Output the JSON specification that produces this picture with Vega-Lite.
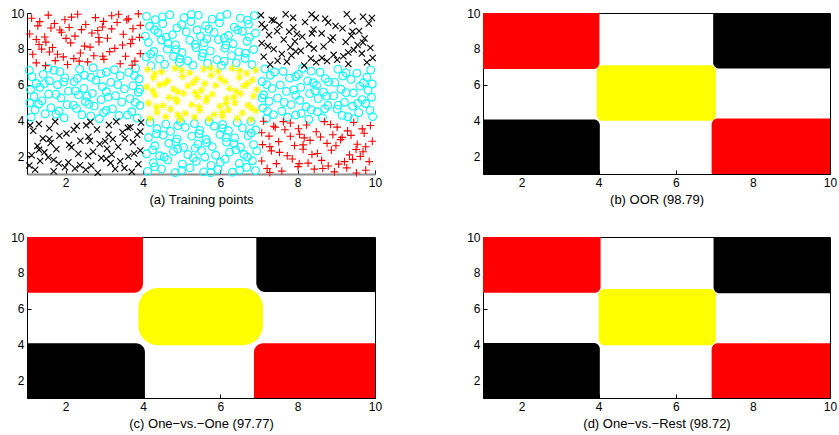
{
"$schema":"https://vega.github.io/schema/vega-lite/v6.json",
"background":"white",
"padding":{"left":10,"top":6,"right":5,"bottom":5},
"config":{
 "font":"Liberation Sans",
 "view":{"stroke":"black","strokeWidth":1},
 "axis":{"grid":false,"domainColor":"black","tickColor":"black","labelColor":"black","labelFontSize":12,"tickSize":-4,"labelPadding":7,"titleFontSize":13,"titleFontWeight":"normal","titleColor":"black","labelFlush":false,"labelOverlap":false,"titlePadding":5}
},
"datasets":{
"pts":[
{"x":6.88,"y":9.85,"c":"c"},{"x":6.52,"y":9.71,"c":"c"},{"x":6.17,"y":9.92,"c":"c"},{"x":5.79,"y":9.66,"c":"c"},{"x":5.43,"y":9.88,"c":"c"},{"x":5.06,"y":9.74,"c":"c"},{"x":4.69,"y":9.9,"c":"c"},{"x":4.32,"y":9.63,"c":"c"},{"x":4.09,"y":9.81,"c":"c"},{"x":6.73,"y":9.38,"c":"c"},{"x":6.36,"y":9.21,"c":"c"},{"x":5.98,"y":9.45,"c":"c"},{"x":5.62,"y":9.29,"c":"c"},{"x":5.24,"y":9.52,"c":"c"},{"x":4.88,"y":9.17,"c":"c"},{"x":4.51,"y":9.41,"c":"c"},{"x":4.17,"y":9.26,"c":"c"},{"x":6.91,"y":8.87,"c":"c"},{"x":6.57,"y":8.98,"c":"c"},{"x":6.21,"y":8.74,"c":"c"},{"x":5.84,"y":8.92,"c":"c"},{"x":5.49,"y":8.69,"c":"c"},{"x":5.12,"y":8.95,"c":"c"},{"x":4.76,"y":8.78,"c":"c"},{"x":4.39,"y":8.91,"c":"c"},{"x":4.06,"y":8.71,"c":"c"},{"x":6.69,"y":8.42,"c":"c"},{"x":6.33,"y":8.28,"c":"c"},{"x":5.95,"y":8.51,"c":"c"},{"x":5.58,"y":8.33,"c":"c"},{"x":5.21,"y":8.47,"c":"c"},{"x":4.84,"y":8.22,"c":"c"},{"x":4.48,"y":8.49,"c":"c"},{"x":4.14,"y":8.36,"c":"c"},{"x":6.86,"y":7.96,"c":"c"},{"x":6.48,"y":7.83,"c":"c"},{"x":6.12,"y":8.04,"c":"c"},{"x":5.74,"y":7.88,"c":"c"},{"x":5.37,"y":8.07,"c":"c"},{"x":5.01,"y":7.79,"c":"c"},{"x":4.63,"y":7.98,"c":"c"},{"x":4.28,"y":7.85,"c":"c"},{"x":6.64,"y":7.47,"c":"c"},{"x":6.29,"y":7.62,"c":"c"},{"x":5.91,"y":7.39,"c":"c"},{"x":5.53,"y":7.56,"c":"c"},{"x":5.16,"y":7.33,"c":"c"},{"x":4.79,"y":7.58,"c":"c"},{"x":4.43,"y":7.42,"c":"c"},{"x":4.08,"y":7.54,"c":"c"},{"x":6.82,"y":7.11,"c":"c"},{"x":6.41,"y":7.21,"c":"c"},{"x":6.03,"y":7.07,"c":"c"},{"x":5.67,"y":7.18,"c":"c"},{"x":5.29,"y":7.09,"c":"c"},{"x":4.94,"y":7.24,"c":"c"},{"x":4.56,"y":7.13,"c":"c"},{"x":4.21,"y":7.06,"c":"c"},{"x":5.4,"y":9.05,"c":"c"},{"x":6.1,"y":8.6,"c":"c"},
{"x":6.7,"y":9.6,"c":"c"},{"x":6.0,"y":9.8,"c":"c"},{"x":5.25,"y":9.92,"c":"c"},{"x":4.5,"y":9.78,"c":"c"},{"x":6.45,"y":9.05,"c":"c"},{"x":5.7,"y":9.1,"c":"c"},{"x":5.0,"y":9.35,"c":"c"},{"x":4.3,"y":9.05,"c":"c"},{"x":6.75,"y":8.65,"c":"c"},{"x":5.65,"y":8.55,"c":"c"},{"x":4.6,"y":8.65,"c":"c"},{"x":6.15,"y":8.2,"c":"c"},{"x":5.35,"y":8.25,"c":"c"},{"x":4.65,"y":8.3,"c":"c"},{"x":6.65,"y":7.75,"c":"c"},{"x":5.55,"y":7.75,"c":"c"},{"x":4.85,"y":7.95,"c":"c"},{"x":4.2,"y":7.7,"c":"c"},{"x":6.1,"y":7.3,"c":"c"},{"x":4.95,"y":7.45,"c":"c"},
{"x":4.12,"y":1.15,"c":"c"},{"x":4.48,"y":1.29,"c":"c"},{"x":4.83,"y":1.08,"c":"c"},{"x":5.21,"y":1.34,"c":"c"},{"x":5.57,"y":1.12,"c":"c"},{"x":5.94,"y":1.26,"c":"c"},{"x":6.31,"y":1.1,"c":"c"},{"x":6.68,"y":1.37,"c":"c"},{"x":6.91,"y":1.19,"c":"c"},{"x":4.27,"y":1.62,"c":"c"},{"x":4.64,"y":1.79,"c":"c"},{"x":5.02,"y":1.55,"c":"c"},{"x":5.38,"y":1.71,"c":"c"},{"x":5.76,"y":1.48,"c":"c"},{"x":6.12,"y":1.83,"c":"c"},{"x":6.49,"y":1.59,"c":"c"},{"x":6.83,"y":1.74,"c":"c"},{"x":4.09,"y":2.13,"c":"c"},{"x":4.43,"y":2.02,"c":"c"},{"x":4.79,"y":2.26,"c":"c"},{"x":5.16,"y":2.08,"c":"c"},{"x":5.51,"y":2.31,"c":"c"},{"x":5.88,"y":2.05,"c":"c"},{"x":6.24,"y":2.22,"c":"c"},{"x":6.61,"y":2.09,"c":"c"},{"x":6.94,"y":2.29,"c":"c"},{"x":4.31,"y":2.58,"c":"c"},{"x":4.67,"y":2.72,"c":"c"},{"x":5.05,"y":2.49,"c":"c"},{"x":5.42,"y":2.67,"c":"c"},{"x":5.79,"y":2.53,"c":"c"},{"x":6.16,"y":2.78,"c":"c"},{"x":6.52,"y":2.51,"c":"c"},{"x":6.86,"y":2.64,"c":"c"},{"x":4.14,"y":3.04,"c":"c"},{"x":4.52,"y":3.17,"c":"c"},{"x":4.88,"y":2.96,"c":"c"},{"x":5.26,"y":3.12,"c":"c"},{"x":5.63,"y":2.93,"c":"c"},{"x":5.99,"y":3.21,"c":"c"},{"x":6.37,"y":3.02,"c":"c"},{"x":6.72,"y":3.15,"c":"c"},{"x":4.36,"y":3.53,"c":"c"},{"x":4.71,"y":3.38,"c":"c"},{"x":5.09,"y":3.61,"c":"c"},{"x":5.47,"y":3.44,"c":"c"},{"x":5.84,"y":3.67,"c":"c"},{"x":6.21,"y":3.42,"c":"c"},{"x":6.57,"y":3.58,"c":"c"},{"x":6.92,"y":3.46,"c":"c"},{"x":4.18,"y":3.89,"c":"c"},{"x":4.59,"y":3.79,"c":"c"},{"x":4.97,"y":3.93,"c":"c"},{"x":5.33,"y":3.82,"c":"c"},{"x":5.71,"y":3.91,"c":"c"},{"x":6.06,"y":3.76,"c":"c"},{"x":6.44,"y":3.87,"c":"c"},{"x":6.79,"y":3.94,"c":"c"},{"x":5.6,"y":1.95,"c":"c"},{"x":4.9,"y":2.4,"c":"c"},
{"x":4.3,"y":1.4,"c":"c"},{"x":5.0,"y":1.2,"c":"c"},{"x":5.75,"y":1.08,"c":"c"},{"x":6.5,"y":1.22,"c":"c"},{"x":4.55,"y":1.95,"c":"c"},{"x":5.3,"y":1.9,"c":"c"},{"x":6.0,"y":1.65,"c":"c"},{"x":6.7,"y":1.95,"c":"c"},{"x":4.25,"y":2.35,"c":"c"},{"x":5.35,"y":2.45,"c":"c"},{"x":6.4,"y":2.35,"c":"c"},{"x":4.85,"y":2.8,"c":"c"},{"x":5.65,"y":2.75,"c":"c"},{"x":6.35,"y":2.7,"c":"c"},{"x":4.35,"y":3.25,"c":"c"},{"x":5.45,"y":3.25,"c":"c"},{"x":6.15,"y":3.05,"c":"c"},{"x":6.8,"y":3.3,"c":"c"},{"x":4.9,"y":3.7,"c":"c"},{"x":6.05,"y":3.55,"c":"c"},
{"x":3.85,"y":4.12,"c":"c"},{"x":3.71,"y":4.48,"c":"c"},{"x":3.92,"y":4.83,"c":"c"},{"x":3.66,"y":5.21,"c":"c"},{"x":3.88,"y":5.57,"c":"c"},{"x":3.74,"y":5.94,"c":"c"},{"x":3.9,"y":6.31,"c":"c"},{"x":3.63,"y":6.68,"c":"c"},{"x":3.81,"y":6.91,"c":"c"},{"x":3.38,"y":4.27,"c":"c"},{"x":3.21,"y":4.64,"c":"c"},{"x":3.45,"y":5.02,"c":"c"},{"x":3.29,"y":5.38,"c":"c"},{"x":3.52,"y":5.76,"c":"c"},{"x":3.17,"y":6.12,"c":"c"},{"x":3.41,"y":6.49,"c":"c"},{"x":3.26,"y":6.83,"c":"c"},{"x":2.87,"y":4.09,"c":"c"},{"x":2.98,"y":4.43,"c":"c"},{"x":2.74,"y":4.79,"c":"c"},{"x":2.92,"y":5.16,"c":"c"},{"x":2.69,"y":5.51,"c":"c"},{"x":2.95,"y":5.88,"c":"c"},{"x":2.78,"y":6.24,"c":"c"},{"x":2.91,"y":6.61,"c":"c"},{"x":2.71,"y":6.94,"c":"c"},{"x":2.42,"y":4.31,"c":"c"},{"x":2.28,"y":4.67,"c":"c"},{"x":2.51,"y":5.05,"c":"c"},{"x":2.33,"y":5.42,"c":"c"},{"x":2.47,"y":5.79,"c":"c"},{"x":2.22,"y":6.16,"c":"c"},{"x":2.49,"y":6.52,"c":"c"},{"x":2.36,"y":6.86,"c":"c"},{"x":1.96,"y":4.14,"c":"c"},{"x":1.83,"y":4.52,"c":"c"},{"x":2.04,"y":4.88,"c":"c"},{"x":1.88,"y":5.26,"c":"c"},{"x":2.07,"y":5.63,"c":"c"},{"x":1.79,"y":5.99,"c":"c"},{"x":1.98,"y":6.37,"c":"c"},{"x":1.85,"y":6.72,"c":"c"},{"x":1.47,"y":4.36,"c":"c"},{"x":1.62,"y":4.71,"c":"c"},{"x":1.39,"y":5.09,"c":"c"},{"x":1.56,"y":5.47,"c":"c"},{"x":1.33,"y":5.84,"c":"c"},{"x":1.58,"y":6.21,"c":"c"},{"x":1.42,"y":6.57,"c":"c"},{"x":1.54,"y":6.92,"c":"c"},{"x":1.11,"y":4.18,"c":"c"},{"x":1.21,"y":4.59,"c":"c"},{"x":1.07,"y":4.97,"c":"c"},{"x":1.18,"y":5.33,"c":"c"},{"x":1.09,"y":5.71,"c":"c"},{"x":1.24,"y":6.06,"c":"c"},{"x":1.13,"y":6.44,"c":"c"},{"x":1.06,"y":6.79,"c":"c"},{"x":3.05,"y":5.6,"c":"c"},{"x":2.6,"y":4.9,"c":"c"},
{"x":3.6,"y":4.3,"c":"c"},{"x":3.8,"y":5.0,"c":"c"},{"x":3.92,"y":5.75,"c":"c"},{"x":3.78,"y":6.5,"c":"c"},{"x":3.05,"y":4.55,"c":"c"},{"x":3.1,"y":5.3,"c":"c"},{"x":3.35,"y":6.0,"c":"c"},{"x":3.05,"y":6.7,"c":"c"},{"x":2.65,"y":4.25,"c":"c"},{"x":2.55,"y":5.35,"c":"c"},{"x":2.65,"y":6.4,"c":"c"},{"x":2.2,"y":4.85,"c":"c"},{"x":2.25,"y":5.65,"c":"c"},{"x":2.3,"y":6.35,"c":"c"},{"x":1.75,"y":4.35,"c":"c"},{"x":1.75,"y":5.45,"c":"c"},{"x":1.95,"y":6.15,"c":"c"},{"x":1.7,"y":6.8,"c":"c"},{"x":1.3,"y":4.9,"c":"c"},{"x":1.45,"y":6.05,"c":"c"},
{"x":7.15,"y":6.88,"c":"c"},{"x":7.29,"y":6.52,"c":"c"},{"x":7.08,"y":6.17,"c":"c"},{"x":7.34,"y":5.79,"c":"c"},{"x":7.12,"y":5.43,"c":"c"},{"x":7.26,"y":5.06,"c":"c"},{"x":7.1,"y":4.69,"c":"c"},{"x":7.37,"y":4.32,"c":"c"},{"x":7.19,"y":4.09,"c":"c"},{"x":7.62,"y":6.73,"c":"c"},{"x":7.79,"y":6.36,"c":"c"},{"x":7.55,"y":5.98,"c":"c"},{"x":7.71,"y":5.62,"c":"c"},{"x":7.48,"y":5.24,"c":"c"},{"x":7.83,"y":4.88,"c":"c"},{"x":7.59,"y":4.51,"c":"c"},{"x":7.74,"y":4.17,"c":"c"},{"x":8.13,"y":6.91,"c":"c"},{"x":8.02,"y":6.57,"c":"c"},{"x":8.26,"y":6.21,"c":"c"},{"x":8.08,"y":5.84,"c":"c"},{"x":8.31,"y":5.49,"c":"c"},{"x":8.05,"y":5.12,"c":"c"},{"x":8.22,"y":4.76,"c":"c"},{"x":8.09,"y":4.39,"c":"c"},{"x":8.29,"y":4.06,"c":"c"},{"x":8.58,"y":6.69,"c":"c"},{"x":8.72,"y":6.33,"c":"c"},{"x":8.49,"y":5.95,"c":"c"},{"x":8.67,"y":5.58,"c":"c"},{"x":8.53,"y":5.21,"c":"c"},{"x":8.78,"y":4.84,"c":"c"},{"x":8.51,"y":4.48,"c":"c"},{"x":8.64,"y":4.14,"c":"c"},{"x":9.04,"y":6.86,"c":"c"},{"x":9.17,"y":6.48,"c":"c"},{"x":8.96,"y":6.12,"c":"c"},{"x":9.12,"y":5.74,"c":"c"},{"x":8.93,"y":5.37,"c":"c"},{"x":9.21,"y":5.01,"c":"c"},{"x":9.02,"y":4.63,"c":"c"},{"x":9.15,"y":4.28,"c":"c"},{"x":9.53,"y":6.64,"c":"c"},{"x":9.38,"y":6.29,"c":"c"},{"x":9.61,"y":5.91,"c":"c"},{"x":9.44,"y":5.53,"c":"c"},{"x":9.67,"y":5.16,"c":"c"},{"x":9.42,"y":4.79,"c":"c"},{"x":9.58,"y":4.43,"c":"c"},{"x":9.46,"y":4.08,"c":"c"},{"x":9.89,"y":6.82,"c":"c"},{"x":9.79,"y":6.41,"c":"c"},{"x":9.93,"y":6.03,"c":"c"},{"x":9.82,"y":5.67,"c":"c"},{"x":9.91,"y":5.29,"c":"c"},{"x":9.76,"y":4.94,"c":"c"},{"x":9.87,"y":4.56,"c":"c"},{"x":9.94,"y":4.21,"c":"c"},{"x":7.95,"y":5.4,"c":"c"},{"x":8.4,"y":6.1,"c":"c"},
{"x":7.4,"y":6.7,"c":"c"},{"x":7.2,"y":6.0,"c":"c"},{"x":7.08,"y":5.25,"c":"c"},{"x":7.22,"y":4.5,"c":"c"},{"x":7.95,"y":6.45,"c":"c"},{"x":7.9,"y":5.7,"c":"c"},{"x":7.65,"y":5.0,"c":"c"},{"x":7.95,"y":4.3,"c":"c"},{"x":8.35,"y":6.75,"c":"c"},{"x":8.45,"y":5.65,"c":"c"},{"x":8.35,"y":4.6,"c":"c"},{"x":8.8,"y":6.15,"c":"c"},{"x":8.75,"y":5.35,"c":"c"},{"x":8.7,"y":4.65,"c":"c"},{"x":9.25,"y":6.65,"c":"c"},{"x":9.25,"y":5.55,"c":"c"},{"x":9.05,"y":4.85,"c":"c"},{"x":9.3,"y":4.2,"c":"c"},{"x":9.7,"y":6.1,"c":"c"},{"x":9.55,"y":4.95,"c":"c"},
{"x":4.12,"y":6.85,"c":"y"},{"x":4.48,"y":6.71,"c":"y"},{"x":4.83,"y":6.92,"c":"y"},{"x":5.21,"y":6.66,"c":"y"},{"x":5.57,"y":6.88,"c":"y"},{"x":5.94,"y":6.74,"c":"y"},{"x":6.31,"y":6.9,"c":"y"},{"x":6.68,"y":6.63,"c":"y"},{"x":6.91,"y":6.81,"c":"y"},{"x":4.27,"y":6.38,"c":"y"},{"x":4.64,"y":6.21,"c":"y"},{"x":5.02,"y":6.45,"c":"y"},{"x":5.38,"y":6.29,"c":"y"},{"x":5.76,"y":6.52,"c":"y"},{"x":6.12,"y":6.17,"c":"y"},{"x":6.49,"y":6.41,"c":"y"},{"x":6.83,"y":6.26,"c":"y"},{"x":4.09,"y":5.87,"c":"y"},{"x":4.43,"y":5.98,"c":"y"},{"x":4.79,"y":5.74,"c":"y"},{"x":5.16,"y":5.92,"c":"y"},{"x":5.51,"y":5.69,"c":"y"},{"x":5.88,"y":5.95,"c":"y"},{"x":6.24,"y":5.78,"c":"y"},{"x":6.61,"y":5.91,"c":"y"},{"x":6.94,"y":5.71,"c":"y"},{"x":4.31,"y":5.42,"c":"y"},{"x":4.67,"y":5.28,"c":"y"},{"x":5.05,"y":5.51,"c":"y"},{"x":5.42,"y":5.33,"c":"y"},{"x":5.79,"y":5.47,"c":"y"},{"x":6.16,"y":5.22,"c":"y"},{"x":6.52,"y":5.49,"c":"y"},{"x":6.86,"y":5.36,"c":"y"},{"x":4.14,"y":4.96,"c":"y"},{"x":4.52,"y":4.83,"c":"y"},{"x":4.88,"y":5.04,"c":"y"},{"x":5.26,"y":4.88,"c":"y"},{"x":5.63,"y":5.07,"c":"y"},{"x":5.99,"y":4.79,"c":"y"},{"x":6.37,"y":4.98,"c":"y"},{"x":6.72,"y":4.85,"c":"y"},{"x":4.36,"y":4.47,"c":"y"},{"x":4.71,"y":4.62,"c":"y"},{"x":5.09,"y":4.39,"c":"y"},{"x":5.47,"y":4.56,"c":"y"},{"x":5.84,"y":4.33,"c":"y"},{"x":6.21,"y":4.58,"c":"y"},{"x":6.57,"y":4.42,"c":"y"},{"x":6.92,"y":4.54,"c":"y"},{"x":4.18,"y":4.11,"c":"y"},{"x":4.59,"y":4.21,"c":"y"},{"x":4.97,"y":4.07,"c":"y"},{"x":5.33,"y":4.18,"c":"y"},{"x":5.71,"y":4.09,"c":"y"},{"x":6.06,"y":4.24,"c":"y"},{"x":6.44,"y":4.13,"c":"y"},{"x":6.79,"y":4.06,"c":"y"},{"x":5.6,"y":6.05,"c":"y"},{"x":4.9,"y":5.6,"c":"y"},
{"x":4.3,"y":6.6,"c":"y"},{"x":5.0,"y":6.8,"c":"y"},{"x":5.75,"y":6.92,"c":"y"},{"x":6.5,"y":6.78,"c":"y"},{"x":4.55,"y":6.05,"c":"y"},{"x":5.3,"y":6.1,"c":"y"},{"x":6.0,"y":6.35,"c":"y"},{"x":6.7,"y":6.05,"c":"y"},{"x":4.25,"y":5.65,"c":"y"},{"x":5.35,"y":5.55,"c":"y"},{"x":6.4,"y":5.65,"c":"y"},{"x":4.85,"y":5.2,"c":"y"},{"x":5.65,"y":5.25,"c":"y"},{"x":6.35,"y":5.3,"c":"y"},{"x":4.35,"y":4.75,"c":"y"},{"x":5.45,"y":4.75,"c":"y"},{"x":6.15,"y":4.95,"c":"y"},{"x":6.8,"y":4.7,"c":"y"},{"x":4.9,"y":4.3,"c":"y"},{"x":6.05,"y":4.45,"c":"y"},
{"x":3.71,"y":1.12,"c":"k"},{"x":3.88,"y":1.55,"c":"k"},{"x":3.62,"y":1.98,"c":"k"},{"x":3.93,"y":2.31,"c":"k"},{"x":3.74,"y":2.77,"c":"k"},{"x":3.85,"y":3.19,"c":"k"},{"x":3.67,"y":3.62,"c":"k"},{"x":3.95,"y":3.88,"c":"k"},{"x":3.28,"y":1.28,"c":"k"},{"x":3.41,"y":1.71,"c":"k"},{"x":3.19,"y":2.09,"c":"k"},{"x":3.36,"y":2.52,"c":"k"},{"x":3.22,"y":2.95,"c":"k"},{"x":3.47,"y":3.33,"c":"k"},{"x":3.12,"y":3.74,"c":"k"},{"x":2.83,"y":1.07,"c":"k"},{"x":2.66,"y":1.46,"c":"k"},{"x":2.92,"y":1.89,"c":"k"},{"x":2.71,"y":2.24,"c":"k"},{"x":2.88,"y":2.68,"c":"k"},{"x":2.59,"y":3.08,"c":"k"},{"x":2.81,"y":3.49,"c":"k"},{"x":2.64,"y":3.91,"c":"k"},{"x":2.24,"y":1.31,"c":"k"},{"x":2.07,"y":1.66,"c":"k"},{"x":2.33,"y":2.13,"c":"k"},{"x":2.15,"y":2.49,"c":"k"},{"x":2.38,"y":2.86,"c":"k"},{"x":2.02,"y":3.27,"c":"k"},{"x":2.29,"y":3.68,"c":"k"},{"x":1.69,"y":1.15,"c":"k"},{"x":1.82,"y":1.58,"c":"k"},{"x":1.55,"y":1.94,"c":"k"},{"x":1.76,"y":2.38,"c":"k"},{"x":1.61,"y":2.73,"c":"k"},{"x":1.84,"y":3.14,"c":"k"},{"x":1.58,"y":3.55,"c":"k"},{"x":1.73,"y":3.93,"c":"k"},{"x":1.21,"y":1.24,"c":"k"},{"x":1.34,"y":1.73,"c":"k"},{"x":1.12,"y":2.05,"c":"k"},{"x":1.27,"y":2.57,"c":"k"},{"x":1.41,"y":2.99,"c":"k"},{"x":1.16,"y":3.41,"c":"k"},{"x":1.31,"y":3.79,"c":"k"},{"x":3.05,"y":1.85,"c":"k"},{"x":3.02,"y":2.83,"c":"k"},{"x":3.61,"y":3.58,"c":"k"},{"x":1.98,"y":1.38,"c":"k"},{"x":1.45,"y":2.21,"c":"k"},
{"x":3.52,"y":1.33,"c":"k"},{"x":3.77,"y":2.15,"c":"k"},{"x":3.53,"y":2.98,"c":"k"},{"x":3.93,"y":3.37,"c":"k"},{"x":3.16,"y":1.62,"c":"k"},{"x":3.07,"y":2.41,"c":"k"},{"x":3.11,"y":3.19,"c":"k"},{"x":3.31,"y":3.93,"c":"k"},{"x":2.52,"y":1.24,"c":"k"},{"x":2.58,"y":2.01,"c":"k"},{"x":2.63,"y":2.86,"c":"k"},{"x":2.53,"y":3.72,"c":"k"},{"x":2.37,"y":1.49,"c":"k"},{"x":2.09,"y":2.63,"c":"k"},{"x":2.21,"y":3.47,"c":"k"},{"x":1.69,"y":1.79,"c":"k"},{"x":1.58,"y":2.96,"c":"k"},{"x":1.08,"y":3.72,"c":"k"},{"x":1.06,"y":1.48,"c":"k"},{"x":1.31,"y":2.35,"c":"k"},
{"x":7.29,"y":7.12,"c":"k"},{"x":7.12,"y":7.55,"c":"k"},{"x":7.38,"y":7.98,"c":"k"},{"x":7.07,"y":8.31,"c":"k"},{"x":7.26,"y":8.77,"c":"k"},{"x":7.15,"y":9.19,"c":"k"},{"x":7.33,"y":9.62,"c":"k"},{"x":7.05,"y":9.88,"c":"k"},{"x":7.72,"y":7.28,"c":"k"},{"x":7.59,"y":7.71,"c":"k"},{"x":7.81,"y":8.09,"c":"k"},{"x":7.64,"y":8.52,"c":"k"},{"x":7.78,"y":8.95,"c":"k"},{"x":7.53,"y":9.33,"c":"k"},{"x":7.88,"y":9.74,"c":"k"},{"x":8.17,"y":7.07,"c":"k"},{"x":8.34,"y":7.46,"c":"k"},{"x":8.08,"y":7.89,"c":"k"},{"x":8.29,"y":8.24,"c":"k"},{"x":8.12,"y":8.68,"c":"k"},{"x":8.41,"y":9.08,"c":"k"},{"x":8.19,"y":9.49,"c":"k"},{"x":8.36,"y":9.91,"c":"k"},{"x":8.76,"y":7.31,"c":"k"},{"x":8.93,"y":7.66,"c":"k"},{"x":8.67,"y":8.13,"c":"k"},{"x":8.85,"y":8.49,"c":"k"},{"x":8.62,"y":8.86,"c":"k"},{"x":8.98,"y":9.27,"c":"k"},{"x":8.71,"y":9.68,"c":"k"},{"x":9.31,"y":7.15,"c":"k"},{"x":9.18,"y":7.58,"c":"k"},{"x":9.45,"y":7.94,"c":"k"},{"x":9.24,"y":8.38,"c":"k"},{"x":9.39,"y":8.73,"c":"k"},{"x":9.16,"y":9.14,"c":"k"},{"x":9.42,"y":9.55,"c":"k"},{"x":9.27,"y":9.93,"c":"k"},{"x":9.79,"y":7.24,"c":"k"},{"x":9.66,"y":7.73,"c":"k"},{"x":9.88,"y":8.05,"c":"k"},{"x":9.73,"y":8.57,"c":"k"},{"x":9.59,"y":8.99,"c":"k"},{"x":9.84,"y":9.41,"c":"k"},{"x":9.69,"y":9.79,"c":"k"},{"x":7.95,"y":7.85,"c":"k"},{"x":7.98,"y":8.83,"c":"k"},{"x":7.39,"y":9.58,"c":"k"},{"x":9.02,"y":7.38,"c":"k"},{"x":9.55,"y":8.21,"c":"k"},
{"x":7.48,"y":7.33,"c":"k"},{"x":7.23,"y":8.15,"c":"k"},{"x":7.47,"y":8.98,"c":"k"},{"x":7.07,"y":9.37,"c":"k"},{"x":7.84,"y":7.62,"c":"k"},{"x":7.93,"y":8.41,"c":"k"},{"x":7.89,"y":9.19,"c":"k"},{"x":7.69,"y":9.93,"c":"k"},{"x":8.48,"y":7.24,"c":"k"},{"x":8.42,"y":8.01,"c":"k"},{"x":8.37,"y":8.86,"c":"k"},{"x":8.47,"y":9.72,"c":"k"},{"x":8.63,"y":7.49,"c":"k"},{"x":8.91,"y":8.63,"c":"k"},{"x":8.79,"y":9.47,"c":"k"},{"x":9.31,"y":7.79,"c":"k"},{"x":9.42,"y":8.96,"c":"k"},{"x":9.92,"y":9.72,"c":"k"},{"x":9.94,"y":7.48,"c":"k"},{"x":9.69,"y":8.35,"c":"k"},
{"x":1.12,"y":9.71,"c":"r"},{"x":1.55,"y":9.88,"c":"r"},{"x":1.98,"y":9.62,"c":"r"},{"x":2.31,"y":9.93,"c":"r"},{"x":2.77,"y":9.74,"c":"r"},{"x":3.19,"y":9.85,"c":"r"},{"x":3.62,"y":9.67,"c":"r"},{"x":3.88,"y":9.95,"c":"r"},{"x":1.28,"y":9.28,"c":"r"},{"x":1.71,"y":9.41,"c":"r"},{"x":2.09,"y":9.19,"c":"r"},{"x":2.52,"y":9.36,"c":"r"},{"x":2.95,"y":9.22,"c":"r"},{"x":3.33,"y":9.47,"c":"r"},{"x":3.74,"y":9.12,"c":"r"},{"x":1.07,"y":8.83,"c":"r"},{"x":1.46,"y":8.66,"c":"r"},{"x":1.89,"y":8.92,"c":"r"},{"x":2.24,"y":8.71,"c":"r"},{"x":2.68,"y":8.88,"c":"r"},{"x":3.08,"y":8.59,"c":"r"},{"x":3.49,"y":8.81,"c":"r"},{"x":3.91,"y":8.64,"c":"r"},{"x":1.31,"y":8.24,"c":"r"},{"x":1.66,"y":8.07,"c":"r"},{"x":2.13,"y":8.33,"c":"r"},{"x":2.49,"y":8.15,"c":"r"},{"x":2.86,"y":8.38,"c":"r"},{"x":3.27,"y":8.02,"c":"r"},{"x":3.68,"y":8.29,"c":"r"},{"x":1.15,"y":7.69,"c":"r"},{"x":1.58,"y":7.82,"c":"r"},{"x":1.94,"y":7.55,"c":"r"},{"x":2.38,"y":7.76,"c":"r"},{"x":2.73,"y":7.61,"c":"r"},{"x":3.14,"y":7.84,"c":"r"},{"x":3.55,"y":7.58,"c":"r"},{"x":3.93,"y":7.73,"c":"r"},{"x":1.24,"y":7.21,"c":"r"},{"x":1.73,"y":7.34,"c":"r"},{"x":2.05,"y":7.12,"c":"r"},{"x":2.57,"y":7.27,"c":"r"},{"x":2.99,"y":7.41,"c":"r"},{"x":3.41,"y":7.16,"c":"r"},{"x":3.79,"y":7.31,"c":"r"},{"x":1.85,"y":9.05,"c":"r"},{"x":2.83,"y":9.02,"c":"r"},{"x":3.58,"y":9.61,"c":"r"},{"x":1.38,"y":7.98,"c":"r"},{"x":2.21,"y":7.45,"c":"r"},
{"x":1.33,"y":9.52,"c":"r"},{"x":2.15,"y":9.77,"c":"r"},{"x":2.98,"y":9.53,"c":"r"},{"x":3.37,"y":9.93,"c":"r"},{"x":1.62,"y":9.16,"c":"r"},{"x":2.41,"y":9.07,"c":"r"},{"x":3.19,"y":9.11,"c":"r"},{"x":3.93,"y":9.31,"c":"r"},{"x":1.24,"y":8.52,"c":"r"},{"x":2.01,"y":8.58,"c":"r"},{"x":2.86,"y":8.63,"c":"r"},{"x":3.72,"y":8.53,"c":"r"},{"x":1.49,"y":8.37,"c":"r"},{"x":2.63,"y":8.09,"c":"r"},{"x":3.47,"y":8.21,"c":"r"},{"x":1.79,"y":7.69,"c":"r"},{"x":2.96,"y":7.58,"c":"r"},{"x":3.72,"y":7.08,"c":"r"},{"x":1.48,"y":7.06,"c":"r"},{"x":2.35,"y":7.31,"c":"r"},
{"x":9.88,"y":3.71,"c":"r"},{"x":9.45,"y":3.88,"c":"r"},{"x":9.02,"y":3.62,"c":"r"},{"x":8.69,"y":3.93,"c":"r"},{"x":8.23,"y":3.74,"c":"r"},{"x":7.81,"y":3.85,"c":"r"},{"x":7.38,"y":3.67,"c":"r"},{"x":7.12,"y":3.95,"c":"r"},{"x":9.72,"y":3.28,"c":"r"},{"x":9.29,"y":3.41,"c":"r"},{"x":8.91,"y":3.19,"c":"r"},{"x":8.48,"y":3.36,"c":"r"},{"x":8.05,"y":3.22,"c":"r"},{"x":7.67,"y":3.47,"c":"r"},{"x":7.26,"y":3.12,"c":"r"},{"x":9.93,"y":2.83,"c":"r"},{"x":9.54,"y":2.66,"c":"r"},{"x":9.11,"y":2.92,"c":"r"},{"x":8.76,"y":2.71,"c":"r"},{"x":8.32,"y":2.88,"c":"r"},{"x":7.92,"y":2.59,"c":"r"},{"x":7.51,"y":2.81,"c":"r"},{"x":7.09,"y":2.64,"c":"r"},{"x":9.69,"y":2.24,"c":"r"},{"x":9.34,"y":2.07,"c":"r"},{"x":8.87,"y":2.33,"c":"r"},{"x":8.51,"y":2.15,"c":"r"},{"x":8.14,"y":2.38,"c":"r"},{"x":7.73,"y":2.02,"c":"r"},{"x":7.32,"y":2.29,"c":"r"},{"x":9.85,"y":1.69,"c":"r"},{"x":9.42,"y":1.82,"c":"r"},{"x":9.06,"y":1.55,"c":"r"},{"x":8.62,"y":1.76,"c":"r"},{"x":8.27,"y":1.61,"c":"r"},{"x":7.86,"y":1.84,"c":"r"},{"x":7.45,"y":1.58,"c":"r"},{"x":7.07,"y":1.73,"c":"r"},{"x":9.76,"y":1.21,"c":"r"},{"x":9.27,"y":1.34,"c":"r"},{"x":8.95,"y":1.12,"c":"r"},{"x":8.43,"y":1.27,"c":"r"},{"x":8.01,"y":1.41,"c":"r"},{"x":7.59,"y":1.16,"c":"r"},{"x":7.21,"y":1.31,"c":"r"},{"x":9.15,"y":3.05,"c":"r"},{"x":8.17,"y":3.02,"c":"r"},{"x":7.42,"y":3.61,"c":"r"},{"x":9.62,"y":1.98,"c":"r"},{"x":8.79,"y":1.45,"c":"r"},
{"x":9.67,"y":3.52,"c":"r"},{"x":8.85,"y":3.77,"c":"r"},{"x":8.02,"y":3.53,"c":"r"},{"x":7.63,"y":3.93,"c":"r"},{"x":9.38,"y":3.16,"c":"r"},{"x":8.59,"y":3.07,"c":"r"},{"x":7.81,"y":3.11,"c":"r"},{"x":7.07,"y":3.31,"c":"r"},{"x":9.76,"y":2.52,"c":"r"},{"x":8.99,"y":2.58,"c":"r"},{"x":8.14,"y":2.63,"c":"r"},{"x":7.28,"y":2.53,"c":"r"},{"x":9.51,"y":2.37,"c":"r"},{"x":8.37,"y":2.09,"c":"r"},{"x":7.53,"y":2.21,"c":"r"},{"x":9.21,"y":1.69,"c":"r"},{"x":8.04,"y":1.58,"c":"r"},{"x":7.28,"y":1.08,"c":"r"},{"x":9.52,"y":1.06,"c":"r"},{"x":8.65,"y":1.31,"c":"r"}
],
"reg":[
{"p":"b","c":"r","x":0,"x2":4.02,"y":6.87,"y2":11},
{"p":"b","c":"k","x":6.97,"x2":11,"y":6.9,"y2":11},
{"p":"b","c":"y","x":3.95,"x2":7.04,"y":3.97,"y2":7.08},
{"p":"b","c":"k","x":0,"x2":4.03,"y":0,"y2":4.05},
{"p":"b","c":"r","x":6.93,"x2":11,"y":0,"y2":4.1},
{"p":"c","c":"r","x":0,"x2":4.0,"y":6.89,"y2":11},
{"p":"c","c":"k","x":6.93,"x2":11,"y":6.93,"y2":11},
{"p":"c","c":"y","x":3.88,"x2":7.1,"y":3.95,"y2":7.15},
{"p":"c","c":"k","x":0,"x2":4.05,"y":0,"y2":4.06},
{"p":"c","c":"r","x":6.87,"x2":11,"y":0,"y2":4.06},
{"p":"d","c":"r","x":0,"x2":4.05,"y":6.89,"y2":11},
{"p":"d","c":"k","x":6.98,"x2":11,"y":6.85,"y2":11},
{"p":"d","c":"y","x":4.0,"x2":7.04,"y":3.95,"y2":7.1},
{"p":"d","c":"k","x":0,"x2":4.03,"y":0,"y2":4.08},
{"p":"d","c":"r","x":6.93,"x2":11,"y":0,"y2":4.06}
]
},
"bounds":"flush",
"columns":2,
"spacing":{"row":63,"column":108},
"concat":[
 {"width":348,"height":161,"data":{"name":"pts"},"view":{"stroke":null},
  "mark":{"type":"point","filled":false,"strokeWidth":1.1,"opacity":1},
  "encoding":{
   "x":{"field":"x","type":"quantitative","scale":{"domain":[1,10],"nice":false,"zero":false},"axis":{"title":"(a) Training points","values":[2,4,6,8,10],"domainColor":"#8c8c8c","domainWidth":2}},
   "y":{"field":"y","type":"quantitative","scale":{"domain":[1,10],"nice":false,"zero":false},"axis":{"title":null,"values":[2,4,6,8,10]}},
   "color":{"field":"c","type":"nominal","scale":{"domain":["r","k","y","c"],"range":["#ff0000","#000000","#ffff00","#00ffff"]},"legend":null},
   "shape":{"field":"c","type":"nominal","scale":{"domain":["r","k","y","c"],"range":["M-1,0L1,0M0,-1L0,1","M-0.8,-0.8L0.8,0.8M-0.8,0.8L0.8,-0.8","M-1,0L1,0M0,-1L0,1M-0.7,-0.7L0.7,0.7M-0.7,0.7L0.7,-0.7","circle"]},"legend":null},
   "size":{"field":"c","type":"ordinal","scale":{"domain":["r","k","y","c"],"range":[60,60,60,85]},"legend":null}
  }},
 {"width":347,"height":161,"data":{"name":"reg"},"transform":[{"filter":"datum.p==='b'"}],
  "mark":{"type":"rect","cornerRadius":6,"clip":true},
  "encoding":{
   "x":{"field":"x","type":"quantitative","scale":{"domain":[1,10],"nice":false,"zero":false},"axis":{"title":"(b) OOR (98.79)","values":[2,4,6,8,10]}},
   "x2":{"field":"x2"},
   "y":{"field":"y","type":"quantitative","scale":{"domain":[1,10],"nice":false,"zero":false},"axis":{"title":null,"values":[2,4,6,8,10]}},
   "y2":{"field":"y2"},
   "color":{"field":"c","type":"nominal","scale":{"domain":["r","k","y"],"range":["#ff0000","#000000","#ffff00"]},"legend":null}
  }},
 {"width":348,"height":161,"data":{"name":"reg"},"transform":[{"filter":"datum.p==='c'"}],
  "encoding":{
   "x":{"field":"x","type":"quantitative","scale":{"domain":[1,10],"nice":false,"zero":false},"axis":{"title":"(c) One−vs.−One (97.77)","values":[2,4,6,8,10]}},
   "x2":{"field":"x2"},
   "y":{"field":"y","type":"quantitative","scale":{"domain":[1,10],"nice":false,"zero":false},"axis":{"title":null,"values":[2,4,6,8,10]}},
   "y2":{"field":"y2"},
   "color":{"field":"c","type":"nominal","scale":{"domain":["r","k","y"],"range":["#ff0000","#000000","#ffff00"]},"legend":null}
  },
  "layer":[
   {"transform":[{"filter":"datum.c!=='y'"}],"mark":{"type":"rect","cornerRadius":9,"clip":true}},
   {"transform":[{"filter":"datum.c==='y'"}],"mark":{"type":"rect","cornerRadius":20,"clip":true}}
  ]},
 {"width":347,"height":161,"data":{"name":"reg"},"transform":[{"filter":"datum.p==='d'"}],
  "mark":{"type":"rect","cornerRadius":6,"clip":true},
  "encoding":{
   "x":{"field":"x","type":"quantitative","scale":{"domain":[1,10],"nice":false,"zero":false},"axis":{"title":"(d) One−vs.−Rest (98.72)","values":[2,4,6,8,10]}},
   "x2":{"field":"x2"},
   "y":{"field":"y","type":"quantitative","scale":{"domain":[1,10],"nice":false,"zero":false},"axis":{"title":null,"values":[2,4,6,8,10]}},
   "y2":{"field":"y2"},
   "color":{"field":"c","type":"nominal","scale":{"domain":["r","k","y"],"range":["#ff0000","#000000","#ffff00"]},"legend":null}
  }}
]
}
